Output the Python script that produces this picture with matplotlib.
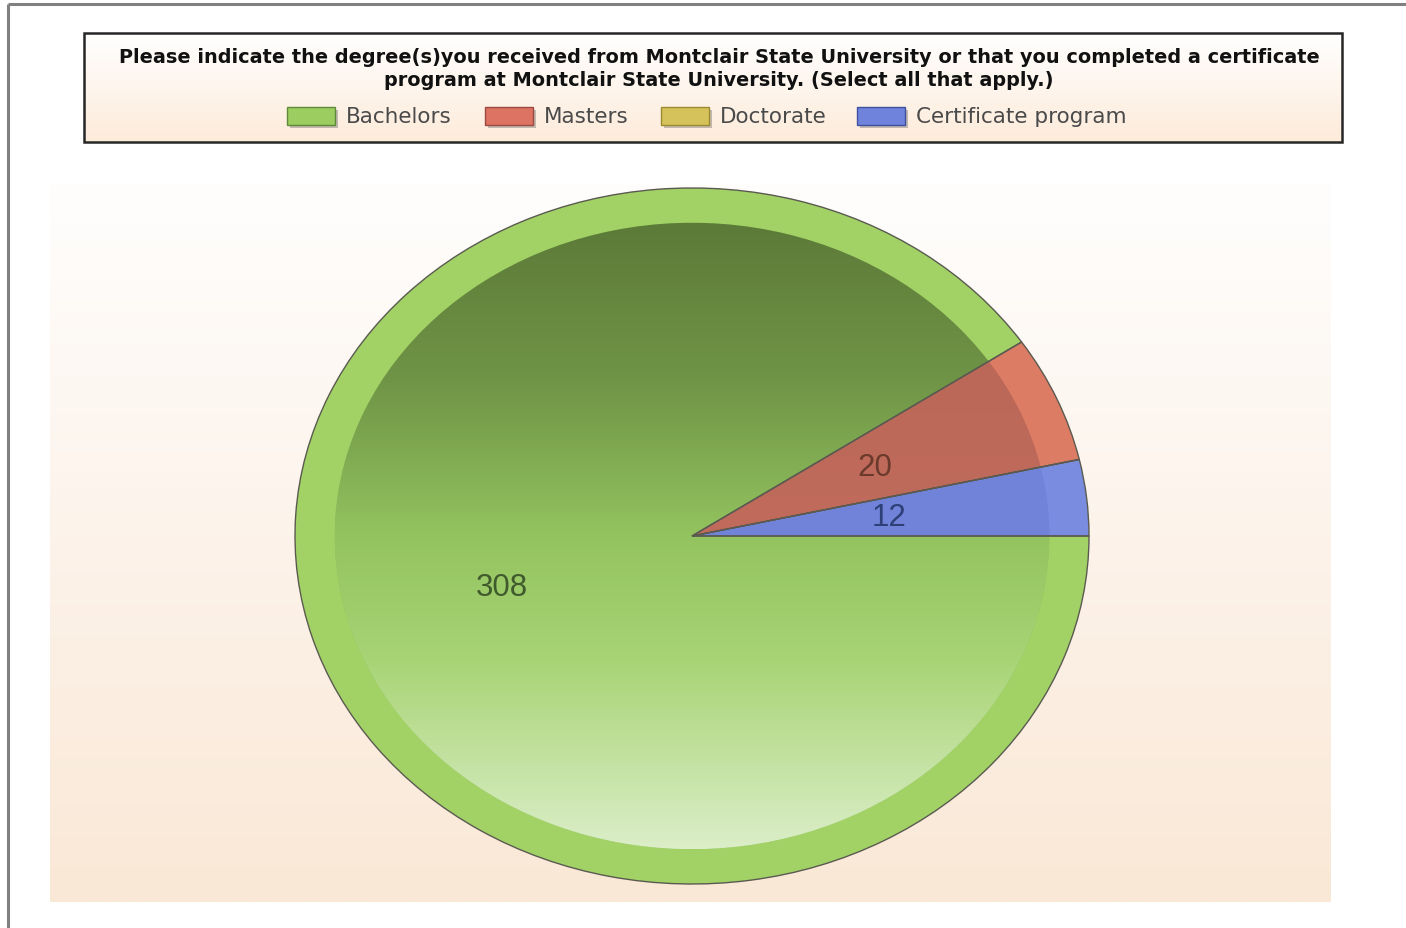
import numpy as np
import matplotlib
matplotlib.use("Agg")
import matplotlib.pyplot as plt
from matplotlib.patches import Rectangle
from matplotlib.colors import to_rgb

# ---------------- data ----------------
categories = ["Bachelors", "Masters", "Doctorate", "Certificate program"]
values = [308, 20, 0, 12]
title_lines = [
    "Please indicate the degree(s)you received from Montclair State University or that you completed a certificate",
    "program at Montclair State University. (Select all that apply.)",
]

# ---------------- styles ----------------
ring_colors = ["#a2d266", "#dc7c64", "#d8c35a", "#7a8ce0"]
inner_colors = ["#8fbf5c", "#c06b5a", "#c8b44e", "#7284da"]
label_colors = ["#3f5a2c", "#6b3a2c", "#5a5020", "#2f3f78"]
legend_face = ["#9ccd60", "#dc7363", "#d6c25a", "#6f83dc"]
legend_edge = ["#5f8a3a", "#9a4a40", "#9b8a30", "#4050a0"]

W, H = 1406, 929
fig = plt.figure(figsize=(W / 100, H / 100), dpi=100)
fig.patch.set_facecolor("white")

# background axes in pixel coordinates
bg = fig.add_axes([0, 0, 1, 1])
bg.set_xlim(0, W)
bg.set_ylim(H, 0)
bg.axis("off")


def vgrad(stops, n=256):
    pos = np.array([s[0] for s in stops])
    cols = np.array([to_rgb(s[1]) for s in stops])
    t = np.linspace(0, 1, n)
    arr = np.stack([np.interp(t, pos, cols[:, k]) for k in range(3)], axis=-1)
    return arr[:, None, :]


# outer frame lines
bg.plot([8, W], [5, 5], color="#808080", lw=2.2, solid_capstyle="butt", zorder=1)
bg.plot([8, 8], [5, H], color="#808080", lw=2.2, solid_capstyle="butt", zorder=1)

# plot area gradient
bg.imshow(vgrad([(0, "#fffefd"), (0.4, "#fdf5ee"), (1, "#fae8d6")]),
          extent=(50, 1331, 903, 185), aspect="auto", zorder=0.5, interpolation="bilinear")

# title box
bg.imshow(vgrad([(0, "#ffffff"), (1, "#fdebda")]),
          extent=(84, 1342, 143, 34), aspect="auto", zorder=0.6, interpolation="bilinear")
bg.add_patch(Rectangle((84, 34), 1258, 109, fill=False, edgecolor="#262626", lw=1.8, zorder=2))

bg.text(719, 57, title_lines[0], ha="center", va="center", fontsize=13.9,
        fontweight="bold", family="DejaVu Sans", color="#111111", zorder=3)
bg.text(719, 80, title_lines[1], ha="center", va="center", fontsize=13.9,
        fontweight="bold", family="DejaVu Sans", color="#111111", zorder=3)

# legend
patch_x = [287, 485, 661, 857]
for i, name in enumerate(categories):
    x0 = patch_x[i]
    bg.add_patch(Rectangle((x0 + 3, 111), 48, 18, facecolor="#555555", alpha=0.35,
                           edgecolor="none", zorder=2))
    bg.add_patch(Rectangle((x0, 108), 48, 18, facecolor=legend_face[i],
                           edgecolor=legend_edge[i], lw=1, zorder=3))
    bg.text(x0 + 59, 117, name, ha="left", va="center", fontsize=15.5,
            family="DejaVu Sans", color="#4a4a4a", zorder=3)

bg.set_xlim(0, W)
bg.set_ylim(H, 0)

# ---------------- pie ----------------
cx, cy, rx, ry = 692, 537, 397, 348
lim = 1.06
ax = fig.add_axes([(cx - lim * rx) / W, (H - cy - lim * ry) / H,
                   2 * lim * rx / W, 2 * lim * ry / H])
ax.axis("off")

total = sum(values)

ring, _ = ax.pie(values, radius=1.0, colors=ring_colors, startangle=0, counterclock=False,
                 wedgeprops=dict(edgecolor="none"))
for w in ring:
    w.set_zorder(1)

inner, _ = ax.pie(values, radius=0.9, colors=inner_colors, startangle=0, counterclock=False,
                  wedgeprops=dict(edgecolor="none"))
for w in inner:
    w.set_zorder(2)

# gradients inside the inner wedges
grads = [
    vgrad([(0, "#5c7a38"), (0.25, "#6f9446"), (0.5, "#93c35f"), (0.7, "#a8d475"), (1, "#dbeec8")]),
    vgrad([(0, "#b86656"), (1, "#c87060")]),
    vgrad([(0, "#c8b44e"), (1, "#d8c35a")]),
    vgrad([(0, "#6e80d8"), (1, "#7488dc")]),
]
for w, g in zip(inner, grads):
    im = ax.imshow(g, extent=(-0.9, 0.9, -0.9, 0.9), aspect="auto", zorder=2.5,
                   interpolation="bilinear")
    im.set_clip_path(w)

outline, _, autotexts = ax.pie(
    values, radius=1.0, colors=["none"] * 4, startangle=0, counterclock=False,
    wedgeprops=dict(edgecolor="#5a5a50", linewidth=1.0, facecolor="none"),
    autopct=lambda p: "" if p < 0.01 else f"{p * total / 100:.0f}",
    pctdistance=0.5, textprops=dict(fontsize=22.5, family="Liberation Sans"))
for w in outline:
    w.set_zorder(3)
    w.set_facecolor("none")
for t, c in zip(autotexts, label_colors):
    t.set_color(c)
    t.set_zorder(4)

ax.set_aspect("auto")
ax.set_xlim(-lim, lim)
ax.set_ylim(-lim, lim)

fig.savefig("out.png", dpi=100, facecolor="white")
